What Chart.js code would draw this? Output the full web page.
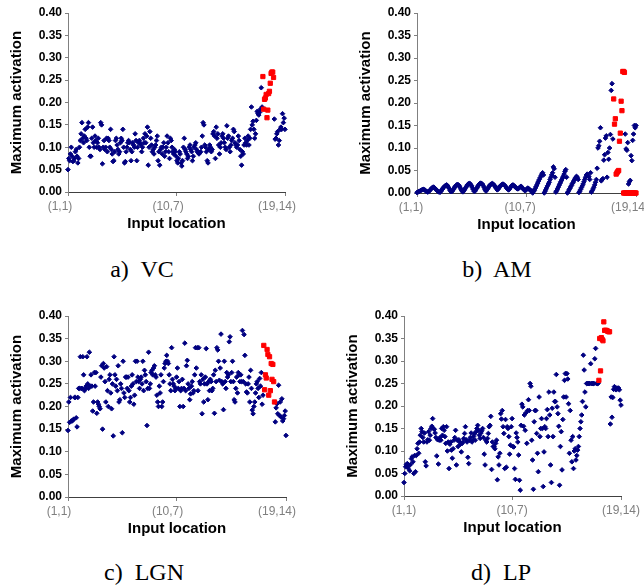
<!DOCTYPE html>
<html>
<head>
<meta charset="utf-8">
<script src="https://cdn.jsdelivr.net/npm/chart.js@4.4.0/dist/chart.umd.min.js"></script>
<style>
body { margin: 0; background: #fff; width: 644px; height: 585px; overflow: hidden; position: relative; }
.pan { position: absolute; }
.cap { position: absolute; width: 120px; text-align: center; white-space: pre; color: #000;
       font: 24px 'Liberation Serif', 'Times New Roman', serif; line-height: 24px; }
</style>
</head>
<body>
<canvas id="vc"  class="pan" width="310" height="240" style="left:0;top:0"></canvas>
<canvas id="am"  class="pan" width="311" height="241" style="left:349px;top:0"></canvas>
<canvas id="lgn" class="pan" width="311" height="242" style="left:0;top:303px"></canvas>
<canvas id="lp"  class="pan" width="310" height="241" style="left:336px;top:303px"></canvas>
<div class="cap" style="left:82px;top:257px">a)  VC</div>
<div class="cap" style="left:437px;top:257px">b)  AM</div>
<div class="cap" style="left:84px;top:560px">c)  LGN</div>
<div class="cap" style="left:441px;top:560px">d)  LP</div>
<script>
// 19 x 14 input locations, one line per row
const xTickPos    = [1, 133, 266];
const xTickLabels = ['(1,1)', '(10,7)', '(19,14)'];
const yTicks      = [0, 0.05, 0.10, 0.15, 0.20, 0.25, 0.30, 0.35, 0.40];

const vcBlue = [
  0.05, 0.075, 0.07, 0.085, 0.10, 0.08, 0.068, 0.07, 0.075, 0.09, 0.095, 0.08, 0.065, 0.075,
  0.10, 0.115, 0.13, 0.155, 0.12, 0.11, 0.125, 0.14, 0.12, 0.115, 0.145, 0.155, 0.10, 0.08,
  0.08, 0.12, 0.145, 0.11, 0.10, 0.125, 0.115, 0.10, 0.11, 0.12, 0.10, 0.095, 0.155, 0.15,
  0.063, 0.10, 0.115, 0.095, 0.10, 0.12, 0.09, 0.12, 0.115, 0.10, 0.14, 0.095, 0.085, 0.068,
  0.07, 0.09, 0.115, 0.12, 0.105, 0.095, 0.085, 0.09, 0.11, 0.12, 0.115, 0.14, 0.10, 0.065,
  0.068, 0.09, 0.10, 0.11, 0.115, 0.11, 0.095, 0.07, 0.09, 0.11, 0.105, 0.10, 0.13, 0.115,
  0.07, 0.10, 0.11, 0.115, 0.11, 0.105, 0.09, 0.10, 0.12, 0.11, 0.13, 0.11, 0.125, 0.145,
  0.06, 0.10, 0.135, 0.12, 0.105, 0.09, 0.095, 0.085, 0.10, 0.105, 0.115, 0.125, 0.07, 0.09,
  0.06, 0.095, 0.10, 0.085, 0.10, 0.11, 0.08, 0.09, 0.10, 0.125, 0.11, 0.09, 0.075, 0.12,
  0.115, 0.10, 0.09, 0.085, 0.095, 0.09, 0.08, 0.07, 0.065, 0.075, 0.09, 0.085, 0.065, 0.058,
  0.07, 0.10, 0.12, 0.095, 0.09, 0.085, 0.075, 0.08, 0.10, 0.105, 0.095, 0.09, 0.07, 0.08,
  0.10, 0.105, 0.11, 0.095, 0.09, 0.088, 0.085, 0.088, 0.09, 0.10, 0.125, 0.155, 0.15, 0.105,
  0.10, 0.09, 0.07, 0.065, 0.095, 0.105, 0.10, 0.09, 0.095, 0.13, 0.135, 0.125, 0.075, 0.145,
  0.12, 0.13, 0.105, 0.085, 0.10, 0.11, 0.125, 0.13, 0.12, 0.11, 0.10, 0.095, 0.148, 0.12,
  0.125, 0.10, 0.09, 0.105, 0.115, 0.12, 0.14, 0.135, 0.11, 0.105, 0.10, 0.105, 0.125, 0.115,
  0.095, 0.08, 0.06, 0.09, 0.085, 0.105, 0.12, 0.11, 0.105, 0.115, 0.125, 0.105, 0.12, 0.14,
  0.19, 0.15, 0.158, 0.14, 0.12, 0.13, 0.16, 0.18, 0.175, 0.172, 0.178, 0.185, 0.233, 0.19,
  null, null, null, null, null, null, null, null, null, null, null, null, null, null,
  0.163, 0.118, 0.12, 0.13, 0.135, 0.105, 0.115, 0.14, 0.145, 0.14, 0.175, 0.155, 0.165, 0.14
];
const vcRedX = [239, 240, 241, 242, 243, 244, 245, 246, 247, 248, 249, 250, 251, 252];
const vcRedY = [0.258, 0.185, 0.207, 0.21, 0.218, 0.166, 0.183, 0.22, 0.225, 0.243, 0.265, 0.268, 0.268, 0.256];

const amBlue = [
  0.001, 0.002, 0.003, 0.004, 0.005, 0.006, 0.007, 0.008, 0.008, 0.007, 0.006, 0.004, 0.003, 0.002,
  0.003, 0.005, 0.007, 0.009, 0.011, 0.012, 0.013, 0.012, 0.01, 0.008, 0.006, 0.004, 0.003, 0.002,
  0.002, 0.004, 0.007, 0.009, 0.012, 0.014, 0.016, 0.017, 0.018, 0.016, 0.013, 0.01, 0.006, 0.003,
  0.003, 0.005, 0.008, 0.011, 0.014, 0.016, 0.018, 0.019, 0.018, 0.016, 0.013, 0.009, 0.006, 0.003,
  0.003, 0.006, 0.009, 0.012, 0.015, 0.018, 0.02, 0.021, 0.021, 0.019, 0.016, 0.012, 0.008, 0.004,
  0.004, 0.007, 0.01, 0.013, 0.016, 0.019, 0.021, 0.022, 0.021, 0.02, 0.017, 0.013, 0.009, 0.005,
  0.005, 0.008, 0.011, 0.014, 0.017, 0.019, 0.02, 0.021, 0.02, 0.018, 0.016, 0.013, 0.01, 0.007,
  0.008, 0.011, 0.014, 0.016, 0.018, 0.019, 0.02, 0.019, 0.017, 0.015, 0.012, 0.01, 0.008, 0.007,
  0.009, 0.012, 0.015, 0.017, 0.018, 0.017, 0.015, 0.013, 0.011, 0.01, 0.009, 0.01, 0.012, 0.014,
  0.015, 0.012, 0.01, 0.008, 0.006, 0.005, 0.007, 0.009, 0.011, 0.01, 0.008, 0.006, 0.005, 0.004,
  0.0, 0.003, 0.006, 0.01, 0.014, 0.018, 0.022, 0.026, 0.03, 0.034, 0.038, 0.042, 0.045, 0.04,
  0.0, 0.004, 0.008, 0.012, 0.016, 0.02, 0.024, 0.03, 0.035, 0.04, 0.045, 0.058, 0.054, 0.035,
  0.002, 0.005, 0.009, 0.013, 0.017, 0.021, 0.025, 0.029, 0.033, 0.037, 0.042, 0.048, 0.052, 0.035,
  0.0, 0.003, 0.007, 0.01, 0.014, 0.017, 0.021, 0.024, 0.028, 0.031, 0.034, 0.037, 0.035, 0.03,
  0.001, 0.004, 0.008, 0.012, 0.016, 0.02, 0.025, 0.03, 0.035, 0.04, 0.042, 0.038, 0.036, 0.03,
  0.045, 0.002, 0.005, 0.009, 0.013, 0.018, 0.024, 0.03, 0.055, 0.10, 0.105, 0.115, 0.145, 0.027,
  0.03, 0.032, 0.073, 0.085, 0.122, 0.127, 0.035, 0.09, 0.075, 0.10, 0.13, 0.228, 0.243, 0.12,
  null, null, null, null, null, null, null, null, null, null, null, null, null, null,
  0.131, 0.098, 0.095, 0.112, 0.02, 0.025, 0.028, 0.083, 0.072, 0.117, 0.131, 0.15, 0.145, 0.15
];
const amRedX = [239, 240, 241, 242, 243, 244, 245, 246, 247, 248, 249, 250, 251, 252,
                251, 252, 253, 254, 255, 256, 257, 258, 259, 260, 261, 262, 263, 264, 265, 266];
const amRedY = [0.209, 0.153, 0.165, 0.042, 0.045, 0.048, 0.05, 0.115, 0.133, 0.204, 0.183, 0.27, 0.27, 0.268,
                0, 0, 0, 0, 0, 0, 0, 0, 0, 0, 0, 0, 0, 0, 0, 0];

const lgnBlue = [
  0.147, 0.21, 0.165, 0.22, 0.168, 0.168, 0.17, 0.172, 0.22, 0.22, 0.175, 0.155, 0.22, 0.24,
  0.24, 0.31, 0.24, 0.24, 0.31, 0.27, 0.235, 0.24, 0.245, 0.31, 0.25, 0.24, 0.32, 0.245,
  0.27, 0.245, 0.19, 0.21, 0.275, 0.245, 0.275, 0.185, 0.21, 0.205, 0.2, 0.195, 0.265, 0.29,
  0.15, 0.295, 0.285, 0.255, 0.21, 0.288, 0.235, 0.2, 0.26, 0.27, 0.23, 0.195, 0.25, 0.135,
  0.31, 0.27, 0.245, 0.26, 0.235, 0.29, 0.21, 0.215, 0.25, 0.24, 0.142, 0.3, 0.23, 0.22,
  0.265, 0.265, 0.24, 0.265, 0.235, 0.21, 0.22, 0.245, 0.27, 0.25, 0.205, 0.225, 0.3, 0.255,
  0.3, 0.265, 0.255, 0.24, 0.26, 0.265, 0.25, 0.3, 0.235, 0.28, 0.27, 0.255, 0.158, 0.24,
  0.32, 0.24, 0.25, 0.275, 0.28, 0.27, 0.285, 0.29, 0.27, 0.265, 0.225, 0.21, 0.2, 0.245,
  0.23, 0.27, 0.2, 0.21, 0.255, 0.285, 0.295, 0.3, 0.313, 0.3, 0.295, 0.27, 0.25, 0.235,
  0.33, 0.26, 0.25, 0.245, 0.235, 0.24, 0.265, 0.285, 0.24, 0.255, 0.2, 0.235, 0.24, 0.26,
  0.2, 0.24, 0.34, 0.235, 0.29, 0.302, 0.25, 0.24, 0.215, 0.228, 0.245, 0.255, 0.23, 0.235,
  0.27, 0.33, 0.285, 0.33, 0.235, 0.33, 0.255, 0.25, 0.27, 0.184, 0.26, 0.21, 0.25, 0.265,
  0.328, 0.25, 0.215, 0.255, 0.235, 0.26, 0.255, 0.235, 0.24, 0.27, 0.185, 0.28, 0.255, 0.33,
  0.325, 0.3, 0.258, 0.285, 0.36, 0.255, 0.25, 0.193, 0.3, 0.255, 0.24, 0.275, 0.265, 0.27,
  0.343, 0.354, 0.255, 0.275, 0.3, 0.255, 0.215, 0.21, 0.24, 0.265, 0.23, 0.275, 0.27, 0.255,
  0.27, 0.255, 0.368, 0.255, 0.359, 0.313, 0.25, 0.232, 0.23, 0.25, 0.265, 0.21, 0.28, 0.24,
  0.192, 0.184, 0.2, 0.21, 0.23, 0.25, 0.255, 0.24, 0.22, 0.262, 0.245, 0.275, 0.205, 0.225,
  null, null, null, null, null, null, null, null, null, null, null, null, null, null,
  0.166, 0.197, 0.206, 0.184, 0.247, 0.18, 0.21, 0.177, 0.217, 0.168, 0.173, 0.18, 0.19, 0.136
];
const lgnRedX = [239, 240, 241, 242, 243, 244, 245, 246, 247, 248, 249, 250, 251, 252];
const lgnRedY = [0.335, 0.237, 0.27, 0.263, 0.326, 0.315, 0.225, 0.31, 0.235, 0.295, 0.26, 0.293, 0.255, 0.21];

const lpBlue = [
  0.03, 0.05, 0.065, 0.07, 0.072, 0.062, 0.068, 0.056, 0.07, 0.083, 0.087, 0.076, 0.05, 0.09,
  0.054, 0.09, 0.105, 0.117, 0.095, 0.12, 0.135, 0.15, 0.143, 0.13, 0.12, 0.14, 0.076, 0.067,
  0.12, 0.125, 0.143, 0.124, 0.135, 0.15, 0.155, 0.172, 0.15, 0.148, 0.14, 0.13, 0.089, 0.125,
  0.071, 0.124, 0.13, 0.124, 0.15, 0.135, 0.154, 0.146, 0.132, 0.117, 0.154, 0.1, 0.12, 0.061,
  0.115, 0.12, 0.102, 0.084, 0.105, 0.124, 0.13, 0.146, 0.069, 0.124, 0.11, 0.125, 0.12, 0.115,
  0.098, 0.117, 0.12, 0.128, 0.139, 0.154, 0.125, 0.12, 0.086, 0.072, 0.124, 0.13, 0.14, 0.12,
  0.124, 0.132, 0.138, 0.124, 0.143, 0.15, 0.157, 0.146, 0.135, 0.128, 0.14, 0.145, 0.15, 0.13,
  0.093, 0.069, 0.124, 0.12, 0.128, 0.139, 0.154, 0.157, 0.177, 0.059, 0.12, 0.11, 0.11, 0.105,
  0.117, 0.124, 0.036, 0.087, 0.069, 0.095, 0.183, 0.171, 0.19, 0.154, 0.139, 0.061, 0.17, 0.064,
  0.154, 0.15, 0.132, 0.093, 0.113, 0.154, 0.172, 0.11, 0.109, 0.061, 0.037, 0.14, 0.13, 0.12,
  0.091, 0.035, 0.013, 0.157, 0.204, 0.198, 0.155, 0.18, 0.146, 0.185, 0.117, 0.19, 0.214, 0.19,
  0.25, 0.244, 0.124, 0.08, 0.015, 0.165, 0.19, 0.19, 0.139, 0.095, 0.054, 0.22, 0.132, 0.15,
  0.172, 0.15, 0.021, 0.098, 0.154, 0.15, 0.172, 0.192, 0.132, 0.231, 0.18, 0.069, 0.03, 0.195,
  0.132, 0.231, 0.21, 0.21, 0.27, 0.198, 0.183, 0.155, 0.024, 0.11, 0.143, 0.058, 0.17, 0.22,
  0.257, 0.272, 0.22, 0.272, 0.26, 0.205, 0.095, 0.19, 0.124, 0.076, 0.132, 0.061, 0.1, 0.105,
  0.08, 0.09, 0.102, 0.11, 0.132, 0.15, 0.165, 0.18, 0.21, 0.313, 0.28, 0.231, 0.198, 0.25,
  0.25, 0.25, 0.25, 0.25, 0.294, 0.25, 0.25, 0.25, 0.25, 0.305, 0.328, 0.25, 0.25, 0.25,
  null, null, null, null, null, null, null, null, null, null, null, null, null, null,
  0.16, 0.22, 0.175, 0.219, 0.237, 0.243, 0.238, 0.236, 0.24, 0.238, 0.24, 0.236, 0.213, 0.202
];
const lpRedX = [239, 240, 241, 242, 243, 244, 245, 246, 247, 248, 249, 250, 251, 252];
const lpRedY = [0.257, 0.35, 0.278, 0.352, 0.348, 0.345, 0.387, 0.368, 0.368, 0.368, 0.367, 0.366, 0.365, 0.365];

const F = "'Liberation Sans', Arial, sans-serif";

function panel(id, blue, redX, redY, padRight, labelShift) {
  const bluePts = [];
  blue.forEach((v, i) => { if (v !== null) bluePts.push({ x: i + 1, y: v }); });
  const redPts = redX.map((x, i) => ({ x: x, y: redY[i] }));
  return new Chart(document.getElementById(id), {
    type: 'scatter',
    data: {
      datasets: [
        { data: redPts, pointStyle: 'rect', pointRadius: 3,
          pointBackgroundColor: '#ff0000', pointBorderColor: '#ff0000', pointBorderWidth: 1, clip: false },
        { data: bluePts, pointStyle: 'rectRot', pointRadius: 2.3,
          pointBackgroundColor: '#000080', pointBorderColor: '#000080', pointBorderWidth: 1, clip: false }
      ]
    },
    options: {
      responsive: false,
      animation: false,
      devicePixelRatio: 1,
      layout: { padding: { top: 13, right: padRight, bottom: 0, left: 0 } },
      plugins: { legend: { display: false }, tooltip: { enabled: false } },
      scales: {
        x: {
          type: 'linear', min: 1, max: 266,
          afterBuildTicks: s => { s.ticks = xTickPos.map(v => ({ value: v })); },
          afterFit: s => { s.height = 48; },
          ticks: { callback: (v, i) => xTickLabels[i], color: '#7f7f7f', autoSkip: false, maxRotation: 0,
                   font: { family: F, size: 12 }, padding: 3, labelOffset: labelShift },
          grid: { drawOnChartArea: false, drawTicks: true, tickLength: 4, color: '#808080' },
          border: { color: '#404040' },
          title: { display: true, text: 'Input location', color: '#000',
                   font: { family: F, size: 15, weight: 'bold' }, padding: { top: 0, bottom: 7 } }
        },
        y: {
          min: 0, max: 0.4,
          afterBuildTicks: s => { s.ticks = yTicks.map(v => ({ value: v })); },
          afterFit: s => { s.width = 68; },
          ticks: { callback: v => v.toFixed(2), color: '#000',
                   font: { family: F, size: 12, weight: 'bold' }, padding: 3 },
          grid: { drawOnChartArea: false, drawTicks: true, tickLength: 3, color: '#808080' },
          border: { color: '#808080' },
          title: { display: true, text: 'Maximum activation', color: '#000',
                   font: { family: F, size: 15, weight: 'bold' }, padding: { top: 8, bottom: 0 } }
        }
      }
    }
  });
}

panel('vc', vcBlue, vcRedX, vcRedY, 25, -8);
panel('am', amBlue, amRedX, amRedY, 24, -6);
panel('lgn', lgnBlue, lgnRedX, lgnRedY, 25, -9);
panel('lp', lpBlue, lpRedX, lpRedY, 25, 0);
</script>
</body>
</html>
